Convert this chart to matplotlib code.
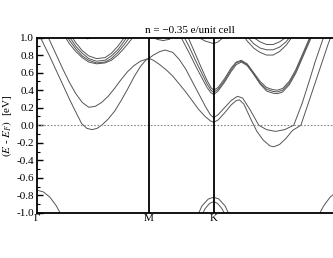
import numpy
import matplotlib
matplotlib.use('Agg')
import matplotlib.pyplot as plt

plt.rcParams['font.family'] = ['Liberation Serif', 'DejaVu Serif']
plt.rcParams['mathtext.fontset'] = 'stix'
plt.rcParams['axes.unicode_minus'] = False

#%% data: k along path (G=0, M=sqrt3, K=sqrt3+1, G=sqrt3+3), energies in eV
k_labels = ['Γ', 'M', 'K', '']   # last Gamma falls outside the picture
k_ticks = [0.0, 1.732, 2.732, 4.732]
title_text = 'n = \u22120.35 e/unit cell'

# valence band tops
val_g1_k = [0.0, 0.1, 0.2, 0.3, 0.4]
val_g1_e = [-0.74, -0.76, -0.82, -0.92, -1.06]
val_g2_k = [4.732, 4.632, 4.532, 4.432, 4.332]
val_g2_e = [-0.74, -0.76, -0.82, -0.92, -1.06]
val_k1_k = [2.47, 2.55, 2.65, 2.732, 2.81, 2.91, 2.99]
val_k1_e = [-1.05, -0.92, -0.84, -0.82, -0.84, -0.92, -1.05]
val_k2_k = [2.53, 2.6, 2.67, 2.732, 2.79, 2.86, 2.93]
val_k2_e = [-1.05, -0.95, -0.89, -0.87, -0.89, -0.95, -1.05]

# lowest conduction bands
band_a_k = [0.0, 0.1, 0.2, 0.3, 0.4, 0.5, 0.6, 0.69, 0.77, 0.85, 0.93, 1.0, 1.1, 1.2, 1.3, 1.4, 1.5, 1.6, 1.68, 1.732,
            1.8, 1.9, 2.0, 2.1, 2.2, 2.3, 2.4, 2.5, 2.6, 2.68, 2.732,
            2.8, 2.9, 3.0, 3.08, 3.13, 3.2, 3.3, 3.4, 3.5, 3.6, 3.66, 3.75, 3.85, 3.95, 4.08, 4.2, 4.3, 4.4, 4.5, 4.6]
band_a_e = [1.08, 0.93, 0.78, 0.62, 0.46, 0.30, 0.15, 0.02, -0.035, -0.05, -0.035, 0.0, 0.07, 0.16, 0.28, 0.41, 0.55, 0.67, 0.74, 0.763,
            0.74, 0.69, 0.63, 0.56, 0.47, 0.38, 0.28, 0.18, 0.10, 0.05, 0.034,
            0.06, 0.14, 0.23, 0.28, 0.29, 0.24, 0.08, -0.07, -0.17, -0.235, -0.245, -0.22, -0.15, -0.06, 0.0, 0.26, 0.48, 0.7, 0.92, 1.12]
band_b_k = [0.1, 0.175, 0.3, 0.4, 0.5, 0.6, 0.7, 0.8, 0.9, 1.0, 1.1, 1.2, 1.3, 1.4, 1.5, 1.6, 1.732,
            1.8, 1.9, 1.984, 2.1, 2.2, 2.3, 2.4, 2.5, 2.6, 2.68, 2.732,
            2.8, 2.9, 3.0, 3.1, 3.18, 3.3, 3.43, 3.55, 3.69, 3.83, 3.97, 4.1, 4.2, 4.3, 4.43, 4.5]
band_b_e = [1.12, 1.0, 0.80, 0.64, 0.49, 0.36, 0.26, 0.205, 0.215, 0.26, 0.33, 0.42, 0.52, 0.61, 0.68, 0.73, 0.763,
            0.80, 0.84, 0.857, 0.83, 0.75, 0.64, 0.50, 0.36, 0.22, 0.12, 0.086,
            0.12, 0.20, 0.28, 0.33, 0.31, 0.17, 0.0, -0.05, -0.07, -0.05, 0.0, 0.25, 0.48, 0.72, 1.0, 1.12]

# middle cluster through K
mid_k = [2.17, 2.25, 2.35, 2.45, 2.55, 2.63, 2.69, 2.732, 2.8, 2.9, 3.0, 3.08, 3.16, 3.25, 3.35, 3.45, 3.55, 3.65, 3.72, 3.8, 3.9, 4.0, 4.1, 4.2, 4.3]
mid_e1 = [1.25, 1.12, 0.98, 0.81, 0.64, 0.51, 0.43, 0.40, 0.43, 0.53, 0.65, 0.72, 0.74, 0.70, 0.60, 0.50, 0.43, 0.405, 0.40, 0.42, 0.50, 0.63, 0.80, 0.97, 1.14]
mid_e2 = [1.17, 1.04, 0.90, 0.74, 0.59, 0.47, 0.40, 0.375, 0.41, 0.51, 0.63, 0.71, 0.73, 0.69, 0.59, 0.48, 0.41, 0.385, 0.38, 0.40, 0.48, 0.61, 0.78, 0.95, 1.12]
mid_e3 = [1.1, 0.97, 0.83, 0.68, 0.54, 0.43, 0.37, 0.35, 0.39, 0.49, 0.61, 0.69, 0.72, 0.68, 0.58, 0.47, 0.39, 0.365, 0.36, 0.38, 0.46, 0.59, 0.76, 0.93, 1.1]

# upper cluster on G-M
up_gm_k = [0.3, 0.4, 0.5, 0.6, 0.7, 0.8, 0.92, 1.05, 1.15, 1.25, 1.35, 1.45, 1.55, 1.65]
up_gm_e1 = [1.3, 1.17, 1.05, 0.94, 0.85, 0.79, 0.76, 0.77, 0.82, 0.90, 1.0, 1.12, 1.25, 1.4]
up_gm_e2 = [1.26, 1.13, 1.01, 0.90, 0.82, 0.76, 0.73, 0.74, 0.79, 0.86, 0.96, 1.07, 1.2, 1.35]
up_gm_e3 = [1.22, 1.09, 0.97, 0.87, 0.79, 0.74, 0.71, 0.72, 0.76, 0.83, 0.92, 1.02, 1.14, 1.3]
up_gm_e4 = [1.18, 1.05, 0.93, 0.84, 0.77, 0.72, 0.70, 0.71, 0.74, 0.80, 0.88, 0.97, 1.08, 1.22]

# bands just touching the top
top1_k = [0.62, 0.7, 0.78, 0.86, 0.95]
top1_e = [1.05, 1.0, 0.985, 1.0, 1.05]
top2_k = [1.75, 1.85, 1.95, 2.05, 2.15]
top2_e = [1.05, 0.98, 0.965, 0.98, 1.05]
top3_k = [2.4, 2.5, 2.6, 2.732, 2.8, 2.88, 2.95]
top3_e = [1.05, 1.0, 0.96, 0.93, 0.95, 1.0, 1.05]

# upper cluster on K-G
up_kg_k = [3.05, 3.15, 3.25, 3.35, 3.45, 3.55, 3.65, 3.75, 3.85, 3.95, 4.05]
up_kg_e1 = [1.3, 1.18, 1.08, 1.0, 0.95, 0.92, 0.92, 0.95, 1.0, 1.08, 1.2]
up_kg_e2 = [1.25, 1.12, 1.01, 0.93, 0.88, 0.86, 0.86, 0.89, 0.95, 1.04, 1.16]
up_kg_e3 = [1.22, 1.08, 0.96, 0.88, 0.83, 0.80, 0.80, 0.84, 0.91, 1.01, 1.14]

band_k = [val_g1_k, val_g2_k, val_k1_k, val_k2_k, band_a_k, band_b_k, mid_k, mid_k, mid_k,
          up_gm_k, up_gm_k, up_gm_k, up_gm_k, top1_k, top2_k, top3_k, up_kg_k, up_kg_k, up_kg_k]
band_e = [val_g1_e, val_g2_e, val_k1_e, val_k2_e, band_a_e, band_b_e, mid_e1, mid_e2, mid_e3,
          up_gm_e1, up_gm_e2, up_gm_e3, up_gm_e4, top1_e, top2_e, top3_e, up_kg_e1, up_kg_e2, up_kg_e3]

#%% plot
fig = plt.figure(figsize=(3.33, 2.58), dpi=100)
ax = fig.add_axes([37/333, 45/258, 306/333, 175.5/258])
for kk, ee in zip(band_k, band_e):
    ax.plot(kk, ee, color='#555555', lw=0.7, solid_joinstyle='round')
ax.axhline(0.0, color='#888888', lw=0.8, ls=(0, (1.5, 1.5)))
for kv in k_ticks[1:3]:
    ax.axvline(kv, color='black', lw=1.3)
ax.set_xlim(0, 4.732)
ax.set_ylim(-1.0, 1.0)
ax.set_xticks(k_ticks)
ax.set_xticklabels(k_labels, fontsize=8)
ax.tick_params(axis='x', length=0, pad=1)
yt = numpy.arange(-1.0, 1.01, 0.2)
ax.set_yticks(yt)
ax.set_yticklabels(['%.1f' % v if abs(v) > 1e-9 else '0.0' for v in yt], fontsize=8)
ax.set_yticks(numpy.arange(-1.0, 1.01, 0.1), minor=True)
ax.tick_params(axis='y', which='major', direction='in', length=4, width=1, pad=2, right=False)
ax.tick_params(axis='y', which='minor', direction='in', length=2, width=0.8, right=False)
for s in ax.spines.values():
    s.set_linewidth(1.3)
ax.set_ylabel(r'$(E$ - $E_F)$  [eV]', fontsize=8)
ax.yaxis.set_label_coords(-0.075, 0.5)
ax.set_title(title_text, fontsize=8, pad=3)
plt.savefig('out.png', dpi=100)
